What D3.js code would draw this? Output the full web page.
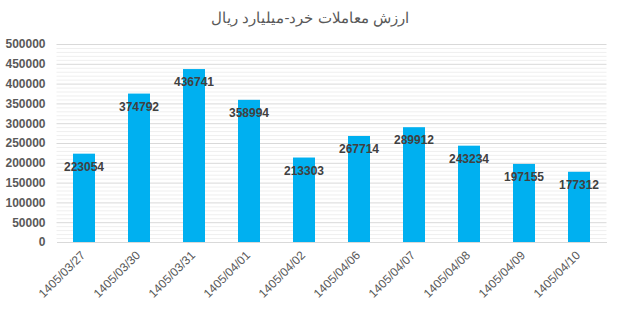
<!DOCTYPE html>
<html>
<head>
<meta charset="utf-8">
<script src="https://cdn.jsdelivr.net/npm/d3@7"></script>
<style>
  body { margin: 0; background: #fff; }
  text { font-family: Arial, "Liberation Sans", sans-serif; }
</style>
</head>
<body>
<div id="chart"></div>
<script>
var dates = ["1405/03/27", "1405/03/30", "1405/03/31", "1405/04/01", "1405/04/02",
             "1405/04/06", "1405/04/07", "1405/04/08", "1405/04/09", "1405/04/10"];
var values = [223054, 374792, 436741, 358994, 213303, 267714, 289912, 243234, 197155, 177312];
var majorTicks = [0, 50000, 100000, 150000, 200000, 250000, 300000, 350000, 400000, 450000, 500000];
var title = "ارزش معاملات خرد-میلیارد ریال";

var width = 619,
    height = 309,
    margin = {top: 44, right: 12.5, bottom: 67, left: 56.5};

var svg = d3.select('#chart')
  .append('svg')
  .attr('width', width)
  .attr('height', height);

var x = d3.scaleBand()
  .domain(dates)
  .range([margin.left, width - margin.right])
  .paddingInner(0.6)
  .paddingOuter(0.3);

var y = d3.scaleLinear()
  .domain([0, 500000])
  .range([height - margin.bottom, margin.top]);

// minor gridlines
svg.append('g')
  .selectAll('line')
  .data(d3.range(0, 500001, 10000).filter(function(d) { return d % 50000 !== 0; }))
  .enter().append('line')
  .attr('x1', margin.left).attr('x2', width - margin.right)
  .attr('y1', function(d) { return y(d) + 0.5; })
  .attr('y2', function(d) { return y(d) + 0.5; })
  .style('stroke', '#efefef')
  .style('stroke-width', 1);

// major gridlines
svg.append('g')
  .selectAll('line')
  .data(majorTicks.slice(1))
  .enter().append('line')
  .attr('x1', margin.left).attr('x2', width - margin.right)
  .attr('y1', function(d) { return y(d) + 0.5; })
  .attr('y2', function(d) { return y(d) + 0.5; })
  .style('stroke', '#d9d9d9')
  .style('stroke-width', 1);

// y axis labels
var yAxis = d3.axisLeft(y).tickValues(majorTicks).tickSize(0).tickPadding(11).tickFormat(d3.format('d'));
svg.append('g')
  .attr('transform', 'translate(' + margin.left + ',0)')
  .call(yAxis)
  .call(function(g) { g.select('.domain').remove(); })
  .selectAll('text')
  .style('font-size', '12px')
  .style('font-weight', 'bold')
  .style('fill', '#595959');

// bars
svg.append('g')
  .selectAll('rect')
  .data(values)
  .enter().append('rect')
  .attr('x', function(d, i) { return x(dates[i]); })
  .attr('y', function(d) { return y(d); })
  .attr('width', x.bandwidth())
  .attr('height', function(d) { return y(0) - y(d); })
  .style('fill', '#00b0f0');

// x axis
var xAxis = d3.axisBottom(x).tickSize(0).tickPadding(0);
var gx = svg.append('g')
  .attr('transform', 'translate(0,' + y(0) + ')')
  .call(xAxis);
gx.select('.domain').style('stroke', '#d9d9d9');
gx.selectAll('text')
  .attr('dy', null)
  .attr('y', 0)
  .attr('text-anchor', 'end')
  .attr('transform', 'translate(2,14) rotate(-45)')
  .style('font-size', '12px')
  .style('fill', '#595959');

// value labels
svg.append('g')
  .selectAll('text')
  .data(values)
  .enter().append('text')
  .attr('x', function(d, i) { return x(dates[i]) + x.bandwidth() / 2; })
  .attr('y', function(d) { return y(d) + 17; })
  .attr('text-anchor', 'middle')
  .style('font-size', '12px')
  .style('font-weight', 'bold')
  .style('fill', '#404040')
  .text(function(d) { return d; });

// title
svg.append('text')
  .attr('x', 310)
  .attr('y', 23)
  .attr('text-anchor', 'middle')
  .attr('direction', 'rtl')
  .style('font-size', '15px')
  .style('fill', '#595959')
  .text(title);
</script>
</body>
</html>
